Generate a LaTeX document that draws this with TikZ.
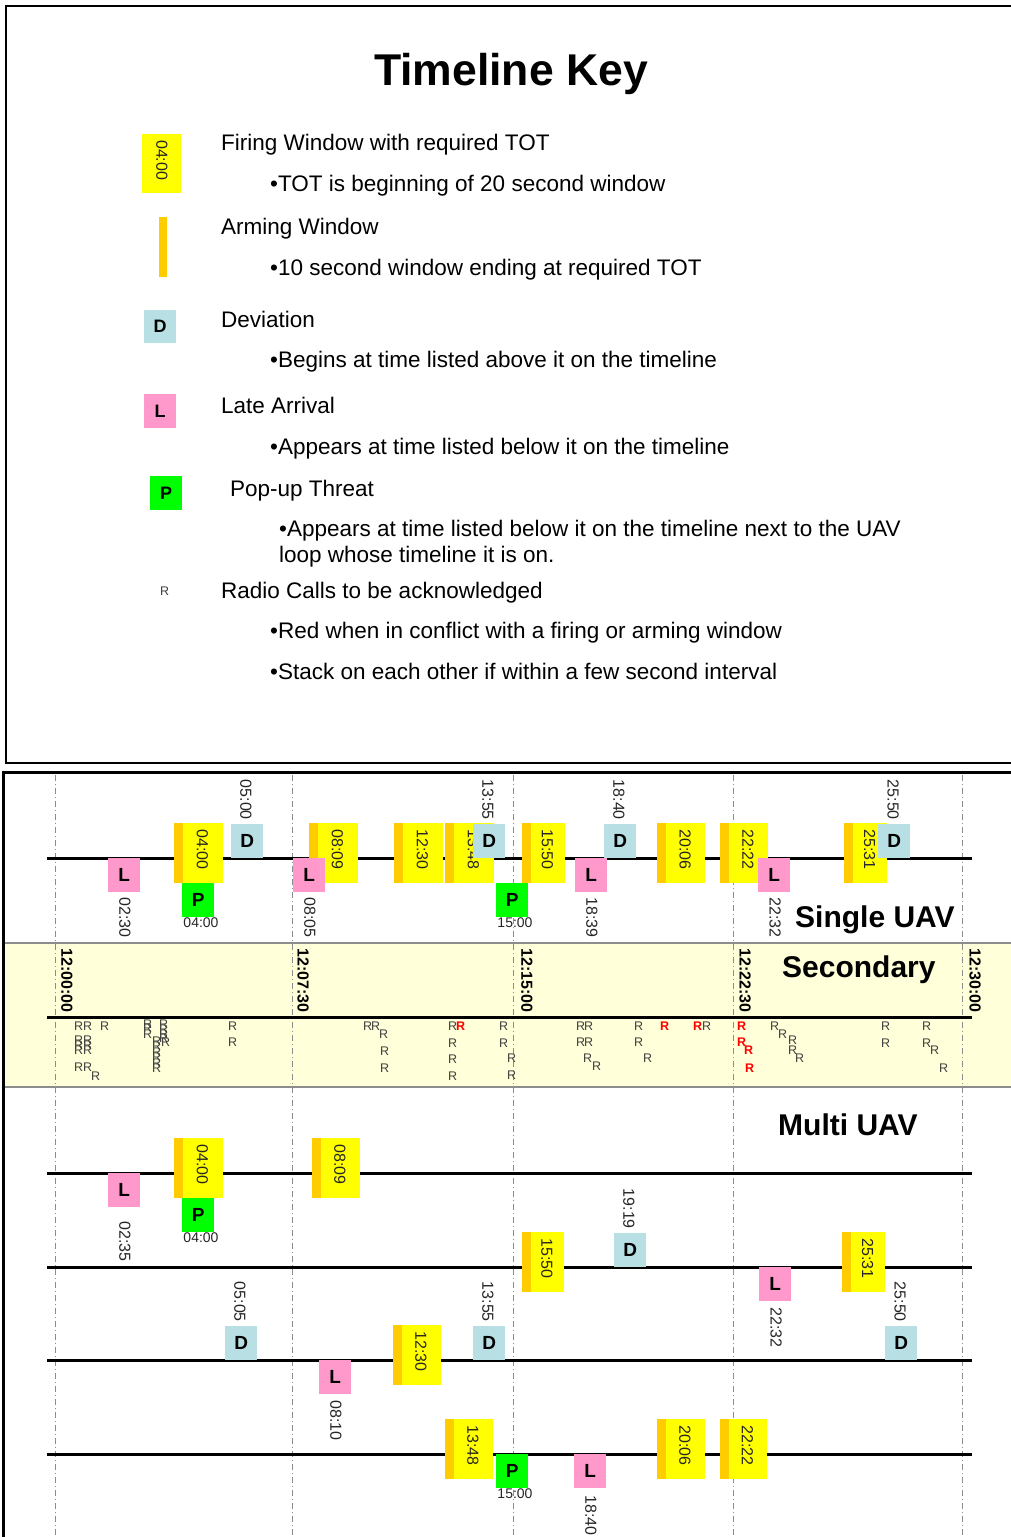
\documentclass[tikz,border=0pt]{standalone}
\usepackage{fontspec}
\setmainfont{Liberation Sans}
\definecolor{fwy}{HTML}{FFFF00}
\definecolor{fwo}{HTML}{FFCC00}
\definecolor{devc}{HTML}{B8DFE4}
\definecolor{latec}{HTML}{FF99CC}
\definecolor{popc}{HTML}{00FF00}
\definecolor{bandc}{HTML}{FFFFD9}
\definecolor{gridc}{HTML}{8C8C8C}
\tikzset{
 firebox/.style={fill=fwy, draw=none, inner sep=0, minimum height=60pt, anchor=north west},
 armbox/.style={fill=fwo, draw=none, inner sep=0, minimum width=8.5pt, minimum height=60pt, anchor=north west},
 markbox/.style={draw=none, inner sep=0, minimum width=32pt, minimum height=34pt, anchor=north west, font=\fontsize{19}{19}\bfseries\selectfont},
 devbox/.style={markbox, fill=devc},
 latebox/.style={markbox, fill=latec},
 popbox/.style={markbox, fill=popc},
 vlabel/.style={rotate=-90, inner sep=0, text=black!85, font=\fontsize{16}{16}\selectfont},
 hlabel/.style={inner sep=0, anchor=north, text=black!85, font=\fontsize{14}{14}\selectfont},
 tline/.style={line width=3pt, black},
 gridline/.style={gridc, line width=1pt, dash pattern=on 6pt off 3pt on 1pt off 3pt},
 rcall/.style={inner sep=0, anchor=west, text=black!75, font=\fontsize{12.5}{12.5}\selectfont},
 rcallred/.style={rcall, text=red, font=\fontsize{12.5}{12.5}\bfseries\selectfont},
 keytext/.style={inner sep=0, anchor=base west, font=\fontsize{22.5}{22.5}\selectfont},
 sectitle/.style={inner sep=0, anchor=base west, font=\fontsize{30}{30}\bfseries\selectfont},
 timelab/.style={rotate=-90, inner sep=0, anchor=west, font=\fontsize{16}{16}\bfseries\selectfont},
}
% firing window: name, x of arming stripe, timeline y, yellow width, label
\newcommand\fwin[5]{%
  \node[armbox] (#1a) at (#2,#3-35) {};
  \node[firebox, minimum width=#4pt] (#1) at (#2+8.5,#3-35) {};
  \node[vlabel, anchor=west] (#1t) at (#2+8.5+#4/2,#3-29) {#5};}
% deviation: name, x left, timeline y, label
\newcommand\devi[4]{%
  \node[devbox] (#1) at (#2,#3-34) {D};
  \node[vlabel, anchor=east] (#1t) at (#2+15,#3-38) {#4};}
% late arrival: name, x left, timeline y, label, gap
\newcommand\late[5]{%
  \node[latebox] (#1) at (#2,#3) {L};
  \node[vlabel, anchor=west] (#1t) at (#2+17,#3+34+#5) {#4};}
% pop-up: name, x left, y top, label
\newcommand\popup[4]{%
  \node[popbox] (#1) at (#2,#3) {P};
  \node[hlabel] (#1t) at (#2+19,#3+35) {#4};}
\newcount\rcnt
\newcommand\rc[2]{\global\advance\rcnt by 1 \node[rcall] (r\the\rcnt) at (#1,#2) {R};}
\newcommand\rcr[2]{\global\advance\rcnt by 1 \node[rcallred] (r\the\rcnt) at (#1,#2) {R};}
\begin{document}
\begin{tikzpicture}[x=1pt,y=-1pt]
\useasboundingbox (0,0) rectangle (1011,1537);
\fill[white] (0,0) rectangle (1011,1537);
% ---------------- key panel
\draw[line width=2pt] (1012,6) -- (6,6) -- (6,763) -- (1012,763);
\node[inner sep=0, anchor=base, font=\fontsize{44.5}{44.5}\bfseries\selectfont] (title) at (511,85) {Timeline Key};
\node[firebox, minimum width=39pt, minimum height=59pt] (kF) at (142,134) {};
\node[vlabel, anchor=west] (kFt) at (162,140) {04:00};
\node[armbox, minimum width=8pt] (kA) at (159,217) {};
\node[devbox, minimum height=33pt, font=\fontsize{18}{18}\bfseries\selectfont] (kD) at (144,310) {D};
\node[latebox, font=\fontsize{18}{18}\bfseries\selectfont] (kL) at (144,394) {L};
\node[popbox, font=\fontsize{18}{18}\bfseries\selectfont] (kP) at (150,476) {P};
\node[rcall] (kR) at (160,591) {R};
\node[keytext] (t1) at (221,150) {Firing Window with required TOT};
\node[keytext] (t2) at (270,191) {•TOT is beginning of 20 second window};
\node[keytext] (t3) at (221,234) {Arming Window};
\node[keytext] (t4) at (270,275) {•10 second window ending at required TOT};
\node[keytext] (t5) at (221,327) {Deviation};
\node[keytext] (t6) at (270,367) {•Begins at time listed above it on the timeline};
\node[keytext] (t7) at (221,413) {Late Arrival};
\node[keytext] (t8) at (270,454) {•Appears at time listed below it on the timeline};
\node[keytext] (t9) at (230,496) {Pop-up Threat};
\node[keytext] (t10) at (279,536) {•Appears at time listed below it on the timeline next to the UAV};
\node[keytext] (t11) at (279,562) {loop whose timeline it is on.};
\node[keytext] (t12) at (221,598) {Radio Calls to be acknowledged};
\node[keytext] (t13) at (270,638) {•Red when in conflict with a firing or arming window};
\node[keytext] (t14) at (270,679) {•Stack on each other if within a few second interval};
% ---------------- timeline panel
\fill[bandc] (4.5,943) rectangle (1011,1087);
\draw[gridc, line width=1.5pt] (4.5,943) -- (1011,943) (4.5,1087) -- (1011,1087);
\foreach \gx in {55,292,513,733,962} \draw[gridline] (\gx,775) -- (\gx,1537);
\draw[line width=3pt] (1012,772) -- (3,772) -- (3,1537);
% timelines
\coordinate (s0) at (47,858);  \coordinate (s1) at (972,858);
\coordinate (c0) at (47,1017); \coordinate (c1) at (972,1017);
\coordinate (m10) at (47,1173); \coordinate (m11) at (972,1173);
\coordinate (m20) at (47,1267); \coordinate (m21) at (972,1267);
\coordinate (m30) at (47,1360); \coordinate (m31) at (972,1360);
\coordinate (m40) at (47,1454); \coordinate (m41) at (972,1454);
\draw[tline] (s0) -- (s1);
\draw[tline] (c0) -- (c1);
\draw[tline] (m10) -- (m11);
\draw[tline] (m20) -- (m21);
\draw[tline] (m30) -- (m31);
\draw[tline] (m40) -- (m41);
% section titles
\node[sectitle] (single) at (795,927) {Single UAV};
\node[sectitle] (secondary) at (782,977) {Secondary};
\node[sectitle] (multi) at (778,1135) {Multi UAV};
% time labels
\node[timelab] (h0) at (67,948) {12:00:00};
\node[timelab] (h1) at (303,948) {12:07:30};
\node[timelab] (h2) at (527,948) {12:15:00};
\node[timelab] (h3) at (745,948) {12:22:30};
\node[timelab] (h4) at (975,948) {12:30:00};
% single UAV
\late{sL1}{108}{858}{02:30}{5}
\fwin{sF1}{174}{858}{40}{04:00}
\popup{sP1}{182}{883}{04:00}
\devi{sD1}{231}{858}{05:00}
\fwin{sF2}{309}{858}{40}{08:09}
\late{sL2}{293}{858}{08:05}{5}
\fwin{sF3}{394}{858}{40}{12:30}
\fwin{sF4}{445}{858}{40}{13:48}
\devi{sD2}{473}{858}{13:55}
\popup{sP2}{496}{883}{15:00}
\fwin{sF5}{522}{858}{34}{15:50}
\late{sL3}{575}{858}{18:39}{5}
\devi{sD3}{604}{858}{18:40}
\fwin{sF6}{657}{858}{39.5}{20:06}
\fwin{sF7}{720}{858}{39}{22:22}
\late{sL4}{758}{858}{22:32}{5}
\fwin{sF8}{844}{858}{34}{25:31}
\devi{sD4}{878}{858}{25:50}
% secondary radio calls
\foreach \px/\py in {74/1026,83/1026,100/1026,74/1040,83/1040,74/1045,83/1045,74/1050,83/1050,
  74/1067,83/1067,91/1076,143/1024,143/1028,143/1034,159/1024,159/1029,159/1034,159/1038,161/1042,
  152/1041,152/1046,152/1052,152/1057,152/1063,152/1068,228/1026,228/1042,
  363/1026,371/1026,379/1034,380/1051,380/1068,448/1026,448/1043,448/1059,448/1076,
  499/1026,499/1043,507/1058,507/1075,576/1026,584/1026,576/1042,584/1042,583/1058,592/1066,
  634/1026,634/1042,643/1058,702/1026,770/1026,778/1034,788/1040,788/1050,795/1058,
  881/1026,881/1043,922/1026,922/1043,930/1050,939/1068}{\rc{\px}{\py}}
\foreach \px/\py in {456/1026,660/1026,693/1026,737/1026,737/1042,744/1050,745/1068}{\rcr{\px}{\py}}
% multi UAV line 1
\late{mL1}{108}{1173}{02:35}{14}
\fwin{mF1}{174}{1173}{40}{04:00}
\popup{mP1}{182}{1198}{04:00}
\fwin{mF2}{312}{1173}{39}{08:09}
% line 2
\fwin{mF3}{522}{1267}{33}{15:50}
\devi{mD1}{614}{1267}{19:19}
\late{mL2}{759}{1267}{22:32}{6}
\fwin{mF4}{842}{1267}{34}{25:31}
% line 3
\devi{mD2}{225}{1360}{05:05}
\late{mL3}{319}{1360}{08:10}{6}
\fwin{mF5}{393}{1360}{39}{12:30}
\devi{mD3}{473}{1360}{13:55}
\devi{mD4}{885}{1360}{25:50}
% line 4
\fwin{mF6}{445}{1454}{39}{13:48}
\popup{mP2}{496}{1454}{15:00}
\late{mL4}{574}{1454}{18:40}{7}
\fwin{mF7}{657}{1454}{39}{20:06}
\fwin{mF8}{720}{1454}{38}{22:22}
\end{tikzpicture}
\end{document}
